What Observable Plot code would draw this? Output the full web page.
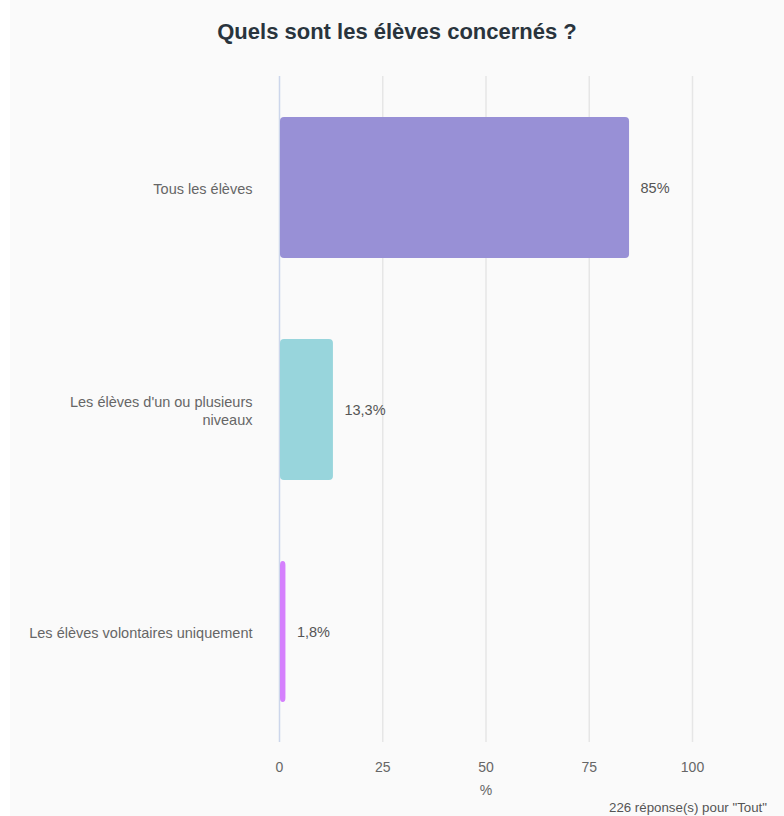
<!DOCTYPE html>
<html>
<head>
<meta charset="utf-8">
<script src="https://cdn.jsdelivr.net/npm/d3@7"></script>
<script src="https://cdn.jsdelivr.net/npm/@observablehq/plot@0.6"></script>
<style>
  html, body { margin: 0; padding: 0; background: #ffffff; }
  #wrap { position: relative; margin-left: 10px; width: 774px; height: 816px; background: #fafafa; font-family: "Liberation Sans", Arial, sans-serif; }
  #title { position: absolute; left: 0; top: 19px; width: 774px; text-align: center; font-size: 22px; font-weight: bold; color: #29343d; }
  #chart { position: absolute; left: -10px; top: 60px; }
  #caption { position: absolute; right: 17px; top: 800px; font-size: 13.3px; color: #555; }
</style>
</head>
<body>
<div id="wrap">
  <div id="title">Quels sont les élèves concernés ?</div>
  <div id="chart"></div>
  <div id="caption">226 réponse(s) pour "Tout"</div>
</div>
<script>
const categories = ["Tous les élèves", "Les élèves d'un ou plusieurs niveaux", "Les élèves volontaires uniquement"];
const categoryLabels = ["Tous les élèves", "Les élèves d'un ou plusieurs\nniveaux", "Les élèves volontaires uniquement"];
const values = [85, 13.3, 1.8];
const valueLabels = ["85%", "13,3%", "1,8%"];
const colors = ["#9890d6", "#98d5dc", "#d580fd"];
const xTicks = [0, 25, 50, 75, 100];

const data = categories.map((c, i) => ({category: c, value: values[i], label: valueLabels[i], color: colors[i]}));
const labelOf = new Map(categories.map((c, i) => [c, categoryLabels[i]]));

const chart = Plot.plot({
  width: 784,
  height: 740,
  marginTop: 16,
  marginBottom: 58,
  marginLeft: 279,
  marginRight: 92,
  style: {background: "transparent", fontFamily: "Liberation Sans, Arial, sans-serif", fontSize: "14px"},
  x: {domain: [0, 100], ticks: xTicks, label: "%"},
  y: {domain: categories, paddingInner: 0.365, paddingOuter: 0.1825, label: null},
  marks: [
    Plot.gridX(xTicks.filter(t => t > 0), {stroke: "#e6e6e6", strokeOpacity: 1, strokeWidth: 1.5}),
    Plot.ruleX([0], {stroke: "#ccd6eb", strokeWidth: 1.5}),
    Plot.axisX({ticks: xTicks, tickSize: 0, tickPadding: 20, fontSize: 14, color: "#666", label: "%", labelAnchor: "center", labelArrow: "none", labelOffset: 52}),
    Plot.axisY({tickSize: 0, tickPadding: 27, fontSize: 14.5, color: "#666", tickFormat: d => labelOf.get(d), lineHeight: 1.24}),
    Plot.barX(data, {x: "value", y: "category", fill: "color", rx: 4, insetLeft: 1, insetRight: 1}),
    Plot.text(data, {x: "value", y: "category", text: "label", textAnchor: "start", dx: 10, fill: "#555", fontSize: 14.5})
  ]
});
document.getElementById("chart").appendChild(chart);
</script>
</body>
</html>
